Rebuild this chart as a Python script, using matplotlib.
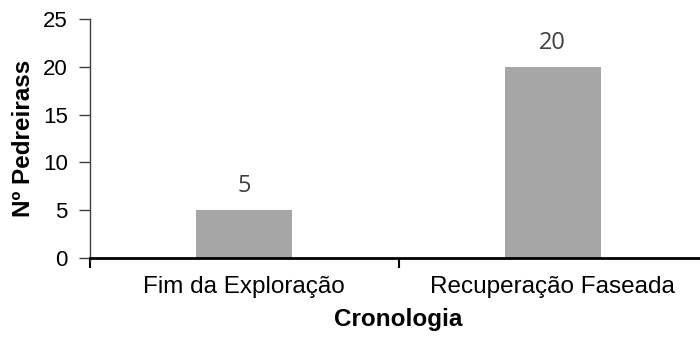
import matplotlib

matplotlib.use("Agg")
import matplotlib.pyplot as plt

# Número de pedreiras por fase cronológica
categorias = ["Fim da Exploração", "Recuperação Faseada"]
pedreiras = [5, 20]
y_ticks = [0, 5, 10, 15, 20, 25]

plt.rcParams["font.family"] = ["Liberation Sans", "DejaVu Sans"]

fig = plt.figure(figsize=(7.0, 3.38), dpi=100)
ax = fig.add_axes([0.1286, 0.2367, 0.8814, 0.7071])

x = list(range(len(categorias)))
ax.bar(x, pedreiras, width=0.31, color="#a6a6a6", zorder=2)

for xi, v in zip(x, pedreiras):
    ax.annotate(str(v), (xi, v), xytext=(0, 13), textcoords="offset points",
                ha="center", va="baseline", fontsize=17, color="#404040",
                family=["Open Sans", "DejaVu Sans"])

ax.set_xlim(-0.5, len(categorias) - 0.5)
ax.set_ylim(0, 25)
ax.set_yticks(y_ticks)
ax.tick_params(axis="y", length=8, width=1, color="#404040", labelsize=16, pad=8)

# ticks nas fronteiras das categorias, rótulos no centro
ax.set_xticks([i - 0.5 for i in range(len(categorias) + 1)])
ax.set_xticklabels([])
ax.set_xticks(x, minor=True)
ax.set_xticklabels(categorias, minor=True, fontsize=17.5)
ax.tick_params(axis="x", which="major", length=7, width=1.5, color="black")
ax.tick_params(axis="x", which="minor", length=0, pad=13)

for side in ("top", "right"):
    ax.spines[side].set_visible(False)
ax.spines["left"].set_color("#404040")
ax.spines["left"].set_linewidth(1)
ax.spines["left"].set_bounds(-0.3, 25)
ax.spines["bottom"].set_linewidth(2)
ax.spines["bottom"].set_color("black")

ax.set_xlabel("Cronologia", fontsize=17.5, fontweight="bold", labelpad=7)
ax.set_ylabel("Nº Pedreirass", fontsize=17.5, fontweight="bold", labelpad=6)

fig.savefig("out.png", dpi=100)
